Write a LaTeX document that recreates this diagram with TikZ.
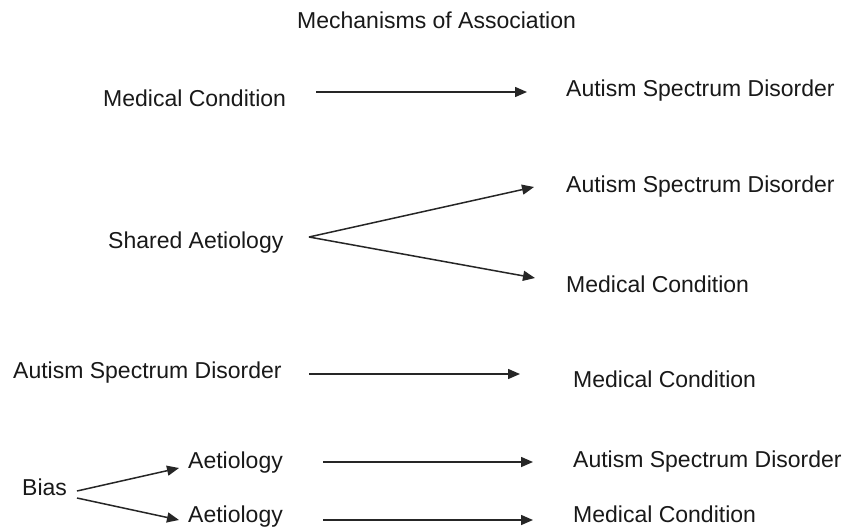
\documentclass[tikz,border=0pt]{standalone}
\usepackage{fontspec}
\setmainfont{Liberation Sans}
\usetikzlibrary{arrows.meta}
\begin{document}
\begin{tikzpicture}[x=1pt,y=-1pt,
  lbl/.style={anchor=base west,inner sep=0pt,font=\fontsize{23}{27}\selectfont,text=black!90},
  arr/.style={line width=1.5pt,draw=black!85,-{Triangle[length=12pt,width=10pt]}}]
\useasboundingbox[fill=white] (0,0) rectangle (859,530);
% title
\node[lbl] (title) at (297,28) {Mechanisms of Association};
% row 1
\node[lbl] (mc1) at (103,106) {Medical Condition};
\node[lbl] (asd1) at (566,96) {Autism Spectrum Disorder};
\coordinate (r1s) at (316,92);
\coordinate (r1e) at (527,92);
\draw[arr] (r1s) -- (r1e);
% row 2
\node[lbl] (sa) at (108,248) {Shared Aetiology};
\node[lbl] (asd2) at (566,192) {Autism Spectrum Disorder};
\node[lbl] (mc2) at (566,292) {Medical Condition};
\coordinate (apex) at (309,237);
\coordinate (r2u) at (534,187);
\coordinate (r2l) at (535,278);
\draw[arr] (apex) -- (r2u);
\draw[arr] (apex) -- (r2l);
% row 3
\node[lbl] (asd3) at (13,378) {Autism Spectrum Disorder};
\node[lbl] (mc3) at (573,387) {Medical Condition};
\coordinate (r3s) at (309,374);
\coordinate (r3e) at (520,374);
\draw[arr] (r3s) -- (r3e);
% row 4
\node[lbl] (bias) at (22,495) {Bias};
\node[lbl] (ae1) at (188,468) {Aetiology};
\node[lbl] (ae2) at (188,522) {Aetiology};
\node[lbl] (asd4) at (573,467) {Autism Spectrum Disorder};
\node[lbl] (mc4) at (573,522) {Medical Condition};
\coordinate (b1s) at (77,491);
\coordinate (b1e) at (179,468);
\coordinate (b2s) at (77,498);
\coordinate (b2e) at (179,520);
\draw[arr] (b1s) -- (b1e);
\draw[arr] (b2s) -- (b2e);
\coordinate (r4s) at (323,462);
\coordinate (r4e) at (533,462);
\coordinate (r5s) at (323,520);
\coordinate (r5e) at (533,520);
\draw[arr] (r4s) -- (r4e);
\draw[arr] (r5s) -- (r5e);
\end{tikzpicture}
\end{document}
